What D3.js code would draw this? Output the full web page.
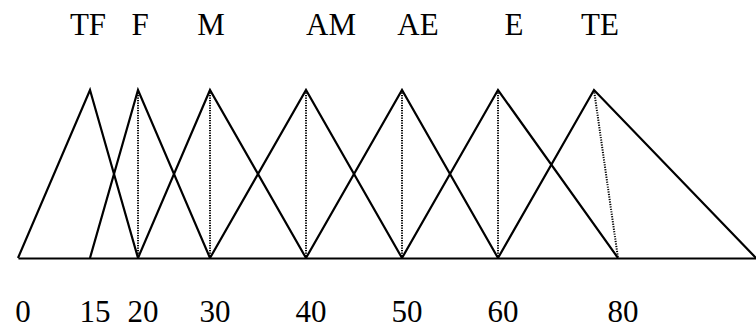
<!DOCTYPE html>
<html>
    <head>
    <meta charset="UTF-8">
    <style>
        body { margin: 0; background: #fff; }
        svg { display: block; }
        text { font-family: "Liberation Serif", "Times New Roman", serif; font-size: 31px; fill: #000; }
    </style>
    </head>
    <body>
        <svg></svg>
        <script src="https://d3js.org/d3.v7.min.js"></script>

        <script>

        let width = 756, height = 329;

        // fuzzy sets: left foot, peak, right foot
        const sets = ["TF", "F", "M", "AM", "AE", "E", "TE"];
        const left = [0, 15, 20, 30, 40, 50, 60];
        const peak = [15, 20, 30, 40, 50, 60, 76];
        const right = [20, 30, 40, 50, 60, 80, 100];
        // dotted line from peak down to this value (null = none)
        const dotTo = [null, 20, 30, 40, 50, 60, 80];
        const tickValues = [0, 15, 20, 30, 40, 50, 60, 80];

        // label nudges (layout only)
        const labelDx = [-2, 2, 1, 25, 16, 16, 6];

        let svg = d3.select("svg")
            .attr("width", width)
            .attr("height", height);

        // axis is not linear, so piecewise
        let x = d3.scaleLinear()
            .domain([0, 15, 20, 30, 40, 50, 60, 80, 100])
            .range([18, 90, 138, 210, 306, 402, 498, 618, 756]);
        let y = d3.scaleLinear()
            .domain([0, 1])
            .range([258, 90]);

        let line = d3.line().x(d => x(d[0])).y(d => y(d[1]));

        //triangles
        svg.append("g")
            .selectAll("path")
            .data(sets.map((s, i) => [[left[i], 0], [peak[i], 1], [right[i], 0]]))
            .enter().append("path")
            .attr("d", line)
            .attr("fill", "none")
            .attr("stroke", "#000")
            .attr("stroke-width", 2.2)
            .attr("stroke-linejoin", "miter");

        //dotted lines
        svg.append("g")
            .selectAll("path")
            .data(sets.map((s, i) => i).filter(i => dotTo[i] !== null))
            .enter().append("path")
            .attr("d", i => line([[peak[i], 1], [dotTo[i], 0]]))
            .attr("fill", "none")
            .attr("stroke", "#000")
            .attr("stroke-width", 2)
            .attr("stroke-dasharray", "1.2,1.3");

        //axis
        let axis = svg.append("g")
            .attr("transform", `translate(0,${y(0)})`)
            .call(d3.axisBottom(x).tickValues(tickValues).tickSize(0).tickSizeOuter(0).tickPadding(42).tickFormat(d3.format("d")));
        axis.select(".domain").attr("stroke", "#000").attr("stroke-width", 2.2);
        axis.selectAll("text")
            .attr("dx", 4.5)
            .style("font-family", "Liberation Serif, Times New Roman, serif")
            .style("font-size", "31px")
            .attr("fill", "#000");

        //set names
        svg.append("g")
            .selectAll("text")
            .data(sets)
            .enter().append("text")
            .attr("x", (d, i) => x(peak[i]) + labelDx[i])
            .attr("y", 35)
            .attr("text-anchor", "middle")
            .text(d => d);

        </script>
    </body>
</html>
